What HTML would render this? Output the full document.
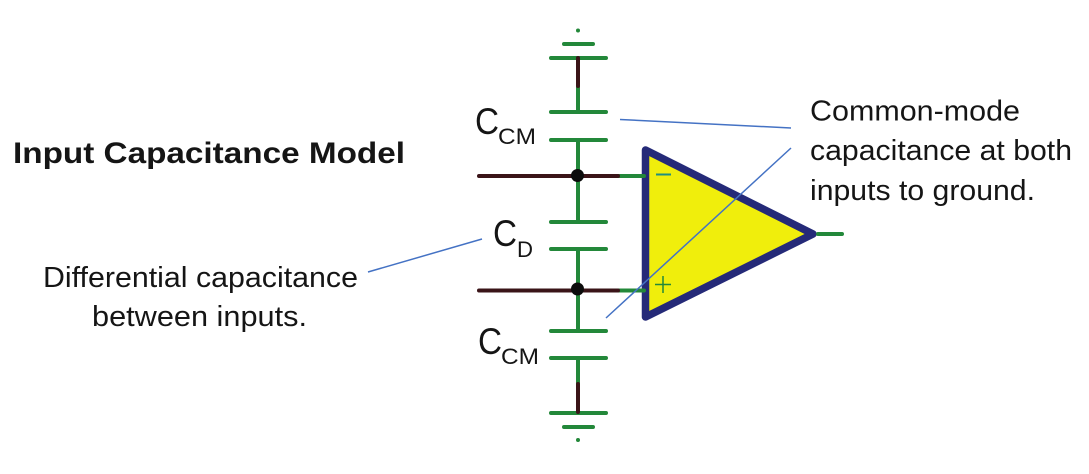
<!DOCTYPE html>
<html><head><meta charset="utf-8"><style>
html,body{margin:0;padding:0;background:#fff}
svg{display:block}
text{font-family:"Liberation Sans",sans-serif;fill:#151515}
</style></head><body>
<svg width="1089" height="474" viewBox="0 0 1089 474" xmlns="http://www.w3.org/2000/svg">
<polygon points="645.5,150 813,234 645.5,317" fill="#f0ee0c" stroke="#252a78" stroke-width="7.5" stroke-linejoin="round"/>
<g stroke="#23883a" stroke-width="4" stroke-linecap="round" fill="none">
<path d="M551 58H606M551 112H606M551 140H606M551 222H606M551 249H606M551 331H606M551 358H606M551 413H606M564 44H593M564 427H593"/>
<path d="M578 86V112M578 140V222M578 249V331M578 358V384"/>
<path d="M616 176H644M616 290.500H644M818 234H842"/>
</g>
<circle cx="578" cy="30.500" r="2" fill="#23883a"/>
<circle cx="578" cy="440" r="2" fill="#23883a"/>
<g stroke="#3a1418" stroke-width="4" stroke-linecap="round" fill="none">
<path d="M578 58V86M578 384V412M479 176H618M479 290.500H618"/>
</g>
<circle cx="577.500" cy="175.500" r="6.500" fill="#0c0c0c"/>
<circle cx="577.500" cy="289" r="6.500" fill="#0c0c0c"/>
<path d="M656 174.500H671" stroke="#1f8f80" stroke-width="2"/>
<path d="M663 276V293M655 284.500H671" stroke="#23883a" stroke-width="1.500" fill="none"/>
<g stroke="#4472c4" stroke-width="1.500" fill="none">
<path d="M620 119.500L791 128M791 148L606 318M368 272L482 239"/>
</g>
<text x="13" y="163" font-size="30" font-weight="700" textLength="392" lengthAdjust="spacingAndGlyphs">Input Capacitance Model</text>
<text x="810" y="120.500" font-size="29" textLength="210" lengthAdjust="spacingAndGlyphs">Common-mode</text>
<text x="810" y="160" font-size="29" textLength="262" lengthAdjust="spacingAndGlyphs">capacitance at both</text>
<text x="810" y="200" font-size="29" textLength="225" lengthAdjust="spacingAndGlyphs">inputs to ground.</text>
<text x="43" y="287" font-size="29" textLength="315" lengthAdjust="spacingAndGlyphs">Differential capacitance</text>
<text x="92" y="326" font-size="29" textLength="215" lengthAdjust="spacingAndGlyphs">between inputs.</text>
<text x="475" y="134" font-size="37" textLength="24" lengthAdjust="spacingAndGlyphs">C</text>
<text x="498" y="144" font-size="22" textLength="38" lengthAdjust="spacingAndGlyphs">CM</text>
<text x="493" y="246" font-size="37" textLength="24" lengthAdjust="spacingAndGlyphs">C</text>
<text x="517" y="257" font-size="22" textLength="16" lengthAdjust="spacingAndGlyphs">D</text>
<text x="478" y="354" font-size="37" textLength="24" lengthAdjust="spacingAndGlyphs">C</text>
<text x="501" y="364" font-size="22" textLength="38" lengthAdjust="spacingAndGlyphs">CM</text>
</svg>
</body></html>
